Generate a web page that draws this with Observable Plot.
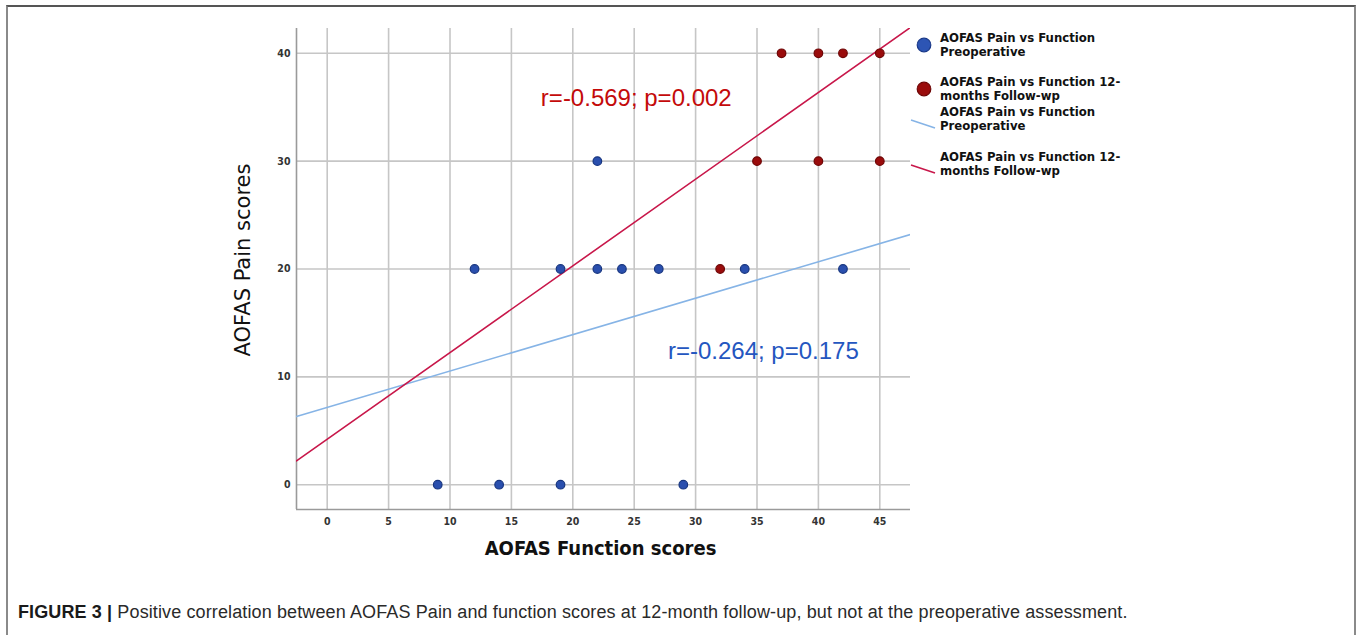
<!DOCTYPE html>
<html>
<head>
<meta charset="utf-8">
<script src="https://cdn.jsdelivr.net/npm/d3@7"></script>
<script src="https://cdn.jsdelivr.net/npm/@observablehq/plot@0.6"></script>
<style>
  html, body { margin: 0; padding: 0; background: #fff; }
  #wrap { position: relative; width: 1357px; height: 635px; overflow: hidden; background: #fff; }
  #frame { position: absolute; left: 6px; top: 5px; width: 1350px; height: 700px; box-sizing: border-box;
           border-left: 2px solid #8a8a8a; border-right: 2px solid #8a8a8a; border-top: 2px solid #555; }
  #chart { position: absolute; left: 0; top: 0; }
  #legend { position: absolute; left: 900px; top: 22px; }
  #caption { position: absolute; left: 18px; top: 602px; font-family: "Liberation Sans", Arial, sans-serif;
             font-size: 18px; letter-spacing: 0.12px; color: #2a2a2a; white-space: nowrap; }
  #caption b { color: #1a1a1a; }
</style>
</head>
<body>
<div id="wrap">
  <div id="frame"></div>
  <div id="chart"></div>
  <div id="legend"></div>
  <div id="caption"><b>FIGURE 3 |</b> Positive correlation between AOFAS Pain and function scores at 12-month follow-up, but not at the preoperative assessment.</div>
</div>
<script>
// ---- data ----
const preFunction = [9, 14, 19, 29, 12, 19, 22, 24, 27, 34, 42, 22];
const prePain     = [0, 0, 0, 0, 20, 20, 20, 20, 20, 20, 20, 30];

const postFunction = [37, 40, 42, 45, 35, 40, 45, 32];
const postPain     = [40, 40, 40, 40, 30, 30, 30, 20];

// fit lines: end points (x, y)
const preFitX  = [-2.5, 47.5];
const preFitY  = [6.32, 23.2];
const postFitX = [-2.5, 47.5];
const postFitY = [2.2, 42.4];

const xTicks = [0, 5, 10, 15, 20, 25, 30, 35, 40, 45];
const yTicks = [0, 10, 20, 30, 40];
const xDomain = [-2.5, 47.5];
const yDomain = [-2.3, 42.3];

const annotations = [
  {x: 17.4, y: 35.8, text: "r=-0.569; p=0.002", color: "#c40a0a"},
  {x: 27.75, y: 12.4, text: "r=-0.264; p=0.175", color: "#2456c0"}
];

const xLabel = "AOFAS Function scores";
const yLabel = "AOFAS Pain scores";

const legendItems = [
  {kind: "dot",  color: "#2d55b4", stroke: "#1b3a8a", lines: ["AOFAS Pain vs Function", "Preoperative"]},
  {kind: "dot",  color: "#9a0c0c", stroke: "#6e0606", lines: ["AOFAS Pain vs Function 12-", "months Follow-wp"]},
  {kind: "line", color: "#86b4e6", lines: ["AOFAS Pain vs Function", "Preoperative"]},
  {kind: "line", color: "#c8174a", lines: ["AOFAS Pain vs Function 12-", "months Follow-wp"]}
];

// ---- build tables ----
const pre  = preFunction.map((x, i) => ({x, y: prePain[i]}));
const post = postFunction.map((x, i) => ({x, y: postPain[i]}));
const preFit  = preFitX.map((x, i) => ({x, y: preFitY[i]}));
const postFit = postFitX.map((x, i) => ({x, y: postFitY[i]}));

const tickFont = "'DejaVu Sans Condensed', 'DejaVu Sans', sans-serif";

const chart = Plot.plot({
  width: 1357,
  height: 580,
  marginLeft: 296,
  marginRight: 447,
  marginTop: 28,
  marginBottom: 71,
  style: {background: "transparent", overflow: "visible"},
  x: {domain: xDomain, ticks: xTicks},
  y: {domain: yDomain, ticks: yTicks},
  marks: [
    Plot.gridX(xTicks, {stroke: "#c6c6c6", strokeOpacity: 1, strokeWidth: 1.6}),
    Plot.gridY(yTicks, {stroke: "#c6c6c6", strokeOpacity: 1, strokeWidth: 1.6}),
    Plot.ruleX([xDomain[0]], {stroke: "#9a9a9a", strokeWidth: 1.6}),
    Plot.ruleY([yDomain[0]], {stroke: "#9a9a9a", strokeWidth: 1.6}),
    Plot.line(preFit,  {x: "x", y: "y", stroke: "#86b4e6", strokeWidth: 1.6, clip: true}),
    Plot.line(postFit, {x: "x", y: "y", stroke: "#c8174a", strokeWidth: 1.6, clip: true}),
    Plot.dot(pre,  {x: "x", y: "y", r: 4.3, fill: "#2a4fae", stroke: "#183680", strokeWidth: 1.2}),
    Plot.dot(post, {x: "x", y: "y", r: 4.3, fill: "#9a0c0c", stroke: "#6e0606", strokeWidth: 1.2}),
    Plot.text(annotations, {x: "x", y: "y", text: "text", fill: "color", textAnchor: "start",
      fontSize: 24, fontFamily: "'Liberation Sans', Arial, sans-serif"}),
    Plot.axisX(xTicks, {tickSize: 0, tickPadding: 8, label: null, fontSize: 10.5,
      fontFamily: tickFont, fontWeight: "bold", fill: "#333"}),
    Plot.axisY(yTicks, {tickSize: 0, tickPadding: 6, label: null, fontSize: 10.5,
      fontFamily: tickFont, fontWeight: "bold", fill: "#333"}),
    Plot.text([xLabel], {frameAnchor: "bottom", dx: -3, dy: 39, lineAnchor: "middle", fontSize: 20,
      fontWeight: "bold", fontFamily: tickFont, fill: "#111", text: d => d}),
    Plot.text([yLabel], {frameAnchor: "left", dx: -53, dy: -9, rotate: -90, textAnchor: "middle",
      lineAnchor: "middle", fontSize: 21,
      fontFamily: "'DejaVu Sans', sans-serif", fontWeight: 500, fill: "#111", text: d => d})
  ]
});
document.getElementById("chart").appendChild(chart);

// ---- legend ----
const lg = d3.select("#legend").append("svg").attr("width", 240).attr("height", 160)
  .style("overflow", "visible");
const rowTop = [15, 59, 89, 134];   // y of first text line centre within legend svg
legendItems.forEach((it, i) => {
  const g = lg.append("g").attr("transform", `translate(0,${rowTop[i]})`);
  if (it.kind === "dot") {
    g.append("circle").attr("cx", 24).attr("cy", 8).attr("r", 6.8)
      .attr("fill", it.color).attr("stroke", it.stroke).attr("stroke-width", 1.2);
  } else {
    g.append("line").attr("x1", 11).attr("y1", 9).attr("x2", 35).attr("y2", 17)
      .attr("stroke", it.color).attr("stroke-width", 1.5);
  }
  it.lines.forEach((t, j) => {
    g.append("text").attr("x", 40).attr("y", j * 14).attr("dy", "0.35em")
      .attr("font-family", tickFont).attr("font-weight", "bold").attr("font-size", 13)
      .attr("fill", "#111").text(t);
  });
});
</script>
</body>
</html>
